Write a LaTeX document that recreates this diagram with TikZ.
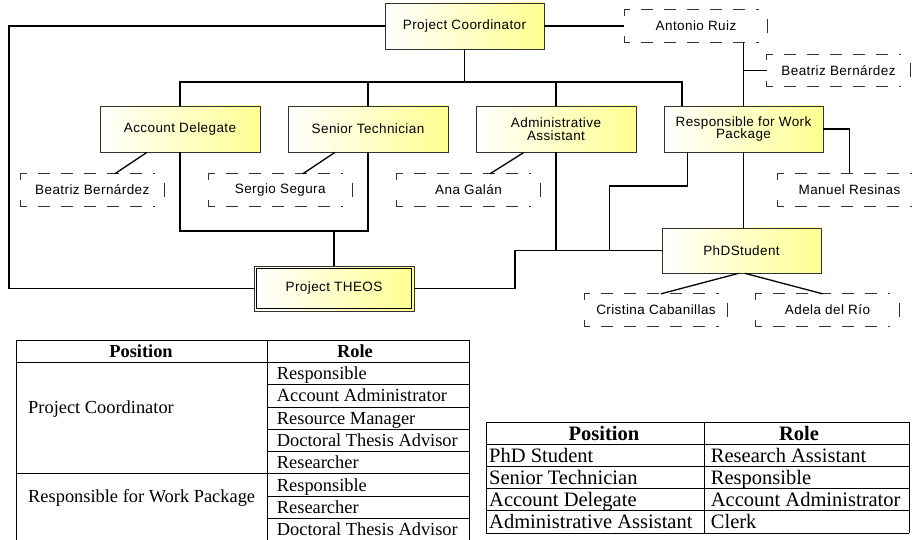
\documentclass[tikz,border=0pt]{standalone}
\usepackage{fontspec}
\setmainfont{Liberation Serif}
\newfontfamily\dsans[LetterSpace=3]{Liberation Sans}
\definecolor{boxyellow}{RGB}{255,255,145}
\begin{document}
\begin{tikzpicture}[x=1pt,y=-1pt,
  ybox/.style={draw=black!80, line width=0.7pt, left color=white, right color=boxyellow,
    inner sep=0pt, minimum width=160pt, minimum height=46pt, align=center,
    font=\dsans\fontsize{13.5}{12.7}\selectfont},
  person/.style={inner sep=0pt, minimum width=143pt, minimum height=32pt,
    font=\dsans\fontsize{13.5}{13}\selectfont},
  link/.style={line width=1.3pt, black},
  pdash/.style={line width=0.8pt, black!80, dash pattern=on 12pt off 11pt},
  pbar/.style={line width=0.8pt, black!80},
  tline/.style={line width=0.8pt, black},
  tcell/.style={anchor=base west, inner sep=0pt, font=\fontsize{18.4}{18}\selectfont},
  thead/.style={anchor=base, inner sep=0pt, font=\bfseries\fontsize{18.4}{18}\selectfont},
  tcellb/.style={anchor=base west, inner sep=0pt, font=\fontsize{20.5}{20}\selectfont},
  theadb/.style={anchor=base, inner sep=0pt, font=\bfseries\fontsize{20.5}{20}\selectfont}]
\useasboundingbox (0,0) rectangle (913,540);

% ---------- main boxes ----------
\node[ybox, minimum width=159pt] (pc) at (464.5,26) {Project Coordinator};
\node[ybox] (ad) at (180,129) {Account Delegate};
\node[ybox] (st) at (368,129) {Senior Technician};
\node[ybox] (aa) at (556,129) {Administrative\\Assistant};
\node[ybox, minimum width=159pt] (rwp) at (743.5,129) {Responsible for Work\\Package};
\node[ybox, minimum width=159pt, minimum height=45pt] (phd) at (741.5,250.5) {PhDStudent};
\node[ybox, minimum height=45pt] (theos) at (334,288.5) {Project THEOS};
\draw[line width=0.7pt, black] ([shift={(3pt,-3pt)}]theos.north west) rectangle ([shift={(-3pt,3pt)}]theos.south east);

% ---------- persons ----------
\node[person] (bb1) at (92.3,190) {Beatriz Bernárdez};
\node[person] (ss) at (280.3,190) {Sergio Segura};
\node[person] (ag) at (468.5,190) {Ana Galán};
\node[person] (ar) at (696,26) {Antonio Ruiz};
\node[person] (bb2) at (838.5,70.5) {Beatriz Bernárdez};
\node[person] (mr) at (849.5,190) {Manuel Resinas};
\node[person] (cc) at (656,310) {Cristina Cabanillas};
\node[person] (adr) at (827.5,310) {Adela del Río};
\foreach \n in {bb1,ss,ag,ar,bb2,mr,cc,adr}{
  \draw[pdash] ([yshift=-6pt]\n.north west) -- (\n.north west) -- ([xshift=-9pt]\n.north east);
  \draw[pdash] ([yshift=6pt]\n.south west) -- (\n.south west) -- ([xshift=-9pt]\n.south east);
  \draw[pbar] ([yshift=7pt]\n.east) -- ([yshift=-7pt]\n.east);
}

% ---------- connectors ----------
\coordinate (busL) at (180,82);
\coordinate (busR) at (682,82);
\coordinate (farL) at (9,26);
\coordinate (j1) at (334,231);
\coordinate (j2) at (515,270);
\coordinate (j3) at (609.3,186);

\draw[link] (pc.west) -- (farL) |- (theos.west);
\draw[link] (pc.east) -- (ar.west);
\draw[link] (ad.north) -- (busL) -- (busR) -- (busR |- rwp.north);
\draw[link] (pc.south) -- (pc.south |- busL);
\draw[link] (st.north) -- (st.north |- busL);
\draw[link] (aa.north) -- (aa.north |- busL);
\draw[link] (rwp.north) -- (rwp.north |- ar.south);
\draw[link] (rwp.north |- bb2.west) -- (bb2.west);
\draw[link] (rwp.east) -| (mr.north);
\draw[link] ([xshift=-33pt]ad.south) -- ([xshift=22.5pt]bb1.north);
\draw[link] ([xshift=-33pt]st.south) -- ([xshift=22.5pt]ss.north);
\draw[link] ([xshift=-32pt]aa.south) -- ([xshift=21.5pt]ag.north);
\draw[link] (ad.south) |- (j1) -| (st.south);
\draw[link] (j1) -- (theos.north);
\draw[link] (theos.east) -| (j2) |- (phd.west);
\draw[link] (aa.south) -- (aa.south |- phd.west);
\draw[link] ([xshift=-56.2pt]rwp.south) |- (j3) -- (j3 |- phd.west);
\draw[link] (rwp.south) -- (rwp.south |- phd.north);
\draw[link] ([xshift=-3pt]phd.south) -- ([xshift=5pt]cc.north);
\draw[link] ([xshift=3.5pt]phd.south) -- ([xshift=-5pt]adr.north);

% ---------- left table ----------
\draw[tline] (16.7,340) -- (469,340);
\draw[tline] (16.7,362.3) -- (469,362.3);
\foreach \k in {1,2,3,4,6,7}{
  \draw[tline] (267,362.3+22.3*\k) -- (469,362.3+22.3*\k);
}
\draw[tline] (16.7,473.8) -- (469,473.8);
\draw[tline] (16.7,340) -- (16.7,545);
\draw[tline] (267,340) -- (267,545);
\draw[tline] (469,340) -- (469,545);

\node[thead] (lh1) at (141,357.8) {Position};
\node[thead] (lh2) at (355,357.8) {Role};
\node[tcell] (lp1) at (28,413) {Project Coordinator};
\node[tcell] (lp2) at (28,502) {Responsible for Work Package};
\node[tcell] (lr1) at (276.7,379.6) {Responsible};
\node[tcell] (lr2) at (276.7,401.9) {Account Administrator};
\node[tcell] (lr3) at (276.7,424.2) {Resource Manager};
\node[tcell] (lr4) at (276.7,446.5) {Doctoral Thesis Advisor};
\node[tcell] (lr5) at (276.7,468.8) {Researcher};
\node[tcell] (lr6) at (276.7,491.1) {Responsible};
\node[tcell] (lr7) at (276.7,513.4) {Researcher};
\node[tcell] (lr8) at (276.7,535.7) {Doctoral Thesis Advisor};

% ---------- right table ----------
\foreach \yy in {422,444.2,466.4,488.6,510.8,533}{
  \draw[tline] (486,\yy) -- (909,\yy);
}
\draw[tline] (486,422) -- (486,533);
\draw[tline] (704,422) -- (704,533);
\draw[tline] (909,422) -- (909,533);

\node[theadb] (rh1) at (604,440) {Position};
\node[theadb] (rh2) at (799,440) {Role};
\node[tcellb] (rp1) at (489,462.2) {PhD Student};
\node[tcellb] (rp2) at (489,484.4) {Senior Technician};
\node[tcellb] (rp3) at (489,506.6) {Account Delegate};
\node[tcellb] (rp4) at (489,528.8) {Administrative Assistant};
\node[tcellb] (rr1) at (710.7,462.2) {Research Assistant};
\node[tcellb] (rr2) at (710.7,484.4) {Responsible};
\node[tcellb] (rr3) at (710.7,506.6) {Account Administrator};
\node[tcellb] (rr4) at (710.7,528.8) {Clerk};
\end{tikzpicture}
\end{document}
